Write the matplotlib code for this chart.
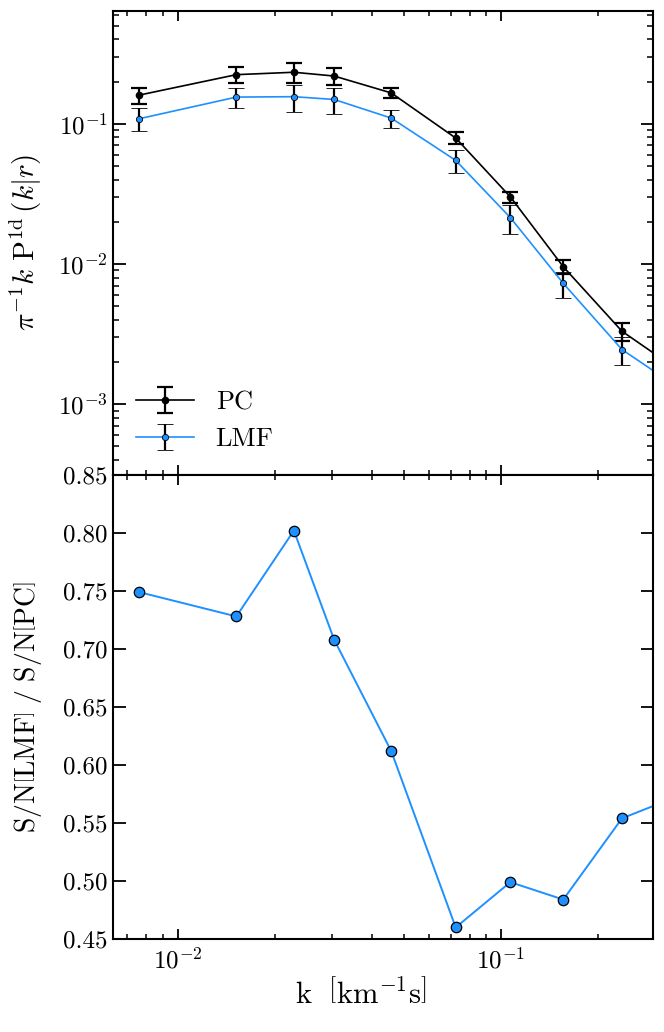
import matplotlib
matplotlib.use("Agg")
import matplotlib.pyplot as plt
from matplotlib.ticker import FixedLocator, FormatStrFormatter, LogLocator, NullFormatter

plt.rcParams["font.family"] = ["cmr10", "DejaVu Serif"]
plt.rcParams["mathtext.fontset"] = "cm"
plt.rcParams["axes.unicode_minus"] = False
plt.rcParams["axes.formatter.use_mathtext"] = True

# wavenumbers (last one sits just past the right edge)
k = [0.0076, 0.0152, 0.0229, 0.0305, 0.0458, 0.0725, 0.107, 0.156, 0.237, 0.36]

pc = [0.160, 0.224, 0.233, 0.219, 0.166, 0.0791, 0.0301, 0.00955, 0.00331, 0.0017]
pc_err = [0.021, 0.030, 0.039, 0.030, 0.014, 0.0077, 0.0027, 0.0011, 0.00047, 0.0003]

lmf = [0.1085, 0.155, 0.156, 0.149, 0.1098, 0.0548, 0.0214, 0.00727, 0.00245, 0.00128]
lmf_err = [0.020, 0.026, 0.034, 0.031, 0.016, 0.0102, 0.0050, 0.00152, 0.00055, 0.0003]

sn_ratio = [0.749, 0.728, 0.802, 0.708, 0.612, 0.460, 0.499, 0.484, 0.554, 0.574]

ratio_ticks = [0.45, 0.50, 0.55, 0.60, 0.65, 0.70, 0.75, 0.80, 0.85]

blue = "#1E90FF"

fig, (ax1, ax2) = plt.subplots(2, 1, figsize=(6.64, 10.32), dpi=100, sharex=True)
fig.subplots_adjust(left=0.1697, right=0.9834, top=0.9896, bottom=0.0901, hspace=0)

ax1.errorbar(k, pc, yerr=pc_err, fmt="o-", color="k", ecolor="k", mec="k",
             ms=4.5, lw=1.2, elinewidth=1.6, capsize=5.5, capthick=1.6, label="PC")
ax1.errorbar(k, lmf, yerr=lmf_err, fmt="o-", color=blue, ecolor="k", mec="k",
             mew=0.6, ms=4.5, lw=1.2, elinewidth=1.6, capsize=5.5, capthick=1.6,
             label="LMF")
ax1.set_xscale("log")
ax1.set_yscale("log")
ax1.set_xlim(0.0063, 0.2955)
ax1.set_ylim(3.13e-4, 0.64)
ax1.set_ylabel(r"$\pi^{-1}k\ \mathrm{P}^{\mathrm{1d}}\,\left(k|r\right)$", fontsize=21)
ax1.legend(loc="lower left", bbox_to_anchor=(0.0, 0.0), frameon=False,
           fontsize=19, handlelength=2.2, handletextpad=0.8, labelspacing=0.5)
ax1.yaxis.set_major_locator(LogLocator(base=10, numticks=10))
ax1.yaxis.set_minor_locator(LogLocator(base=10, subs=range(2, 10), numticks=10))
ax1.yaxis.set_minor_formatter(NullFormatter())

ax2.plot(k, sn_ratio, "o-", color=blue, mfc=blue, mec="k", mew=0.9, ms=7.5, lw=1.4)
ax2.set_ylim(0.45, 0.85)
ax2.yaxis.set_major_locator(FixedLocator(ratio_ticks))
ax2.yaxis.set_major_formatter(FormatStrFormatter("%.2f"))
ax2.set_ylabel(r"$\mathrm{S/N}\left[\mathrm{LMF}\right]\ /\ \mathrm{S/N}\left[\mathrm{PC}\right]$",
               fontsize=20)
ax2.set_xlabel(r"$\mathrm{k}\ \ \left[\mathrm{km}^{-1}\mathrm{s}\right]$", fontsize=22)
ax2.xaxis.set_label_coords(0.46, -0.085)

for ax in (ax1, ax2):
    ax.tick_params(which="both", direction="in", top=True, right=True, labelsize=18)
    ax.tick_params(axis="x", which="major", length=7, width=1.3, pad=6)
    ax.tick_params(axis="x", which="minor", length=3.5, width=1.1)
    ax.tick_params(axis="y", which="major", length=9, width=1.3)
    ax.tick_params(axis="y", which="minor", length=4.5, width=1.1)
    for sp in ax.spines.values():
        sp.set_linewidth(1.5)
    ax.yaxis.set_label_coords(-0.128, 0.5)

ax2.xaxis.set_minor_formatter(NullFormatter())

fig.savefig("out.png", dpi=100)
